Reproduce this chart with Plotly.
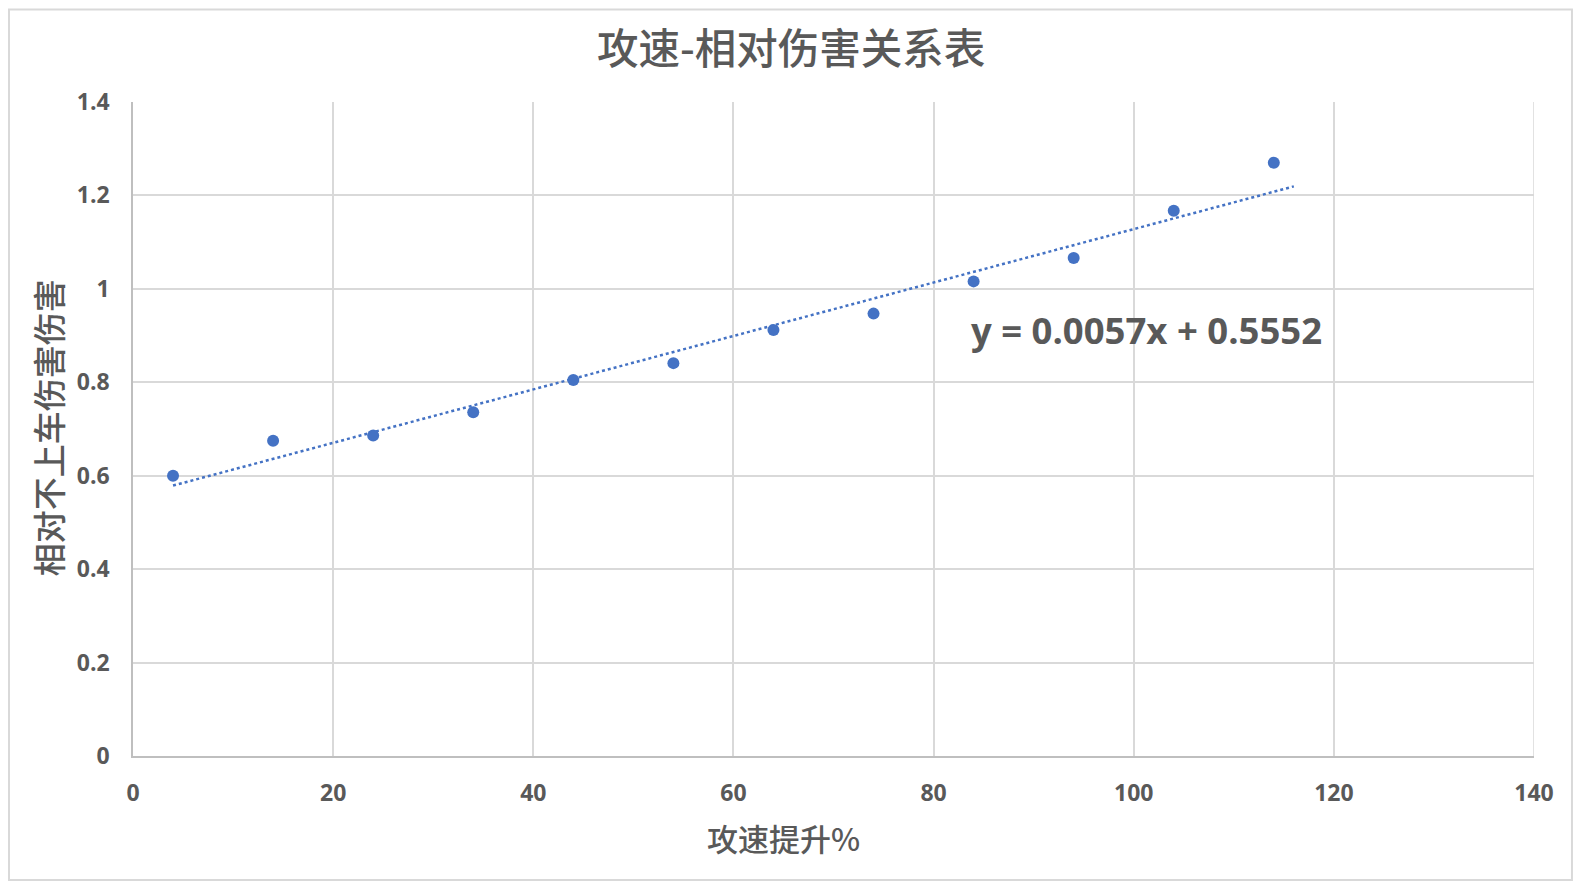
import numpy as np
import plotly.graph_objects as go

# 攻速提升 (%) and 相对伤害
speed_up = [4, 14, 24, 34, 44, 54, 64, 74, 84, 94, 104, 114]
rel_damage = [0.600, 0.675, 0.686, 0.736, 0.805, 0.841, 0.912, 0.947, 1.016, 1.066, 1.167, 1.270]

x_ticks = [0, 20, 40, 60, 80, 100, 120, 140]
y_ticks = [0, 0.2, 0.4, 0.6, 0.8, 1, 1.2, 1.4]
y_tick_text = ["0", "0.2", "0.4", "0.6", "0.8", "1", "1.2", "1.4"]

# linear trendline, forecast forward 2 units like the Excel chart
slope, intercept = np.polyfit(speed_up, rel_damage, 1)
trend_x = np.array([speed_up[0], speed_up[-1] + 2])
trend_y = slope * trend_x + intercept

cjk = "Noto Sans CJK SC"
num = "Open Sans"
grey = "#595959"

fig = go.Figure()
fig.add_trace(go.Scatter(x=trend_x, y=trend_y, mode="lines",
                         line=dict(color="#4472C4", width=2.5, dash="dot"),
                         showlegend=False, hoverinfo="skip"))
fig.add_trace(go.Scatter(x=speed_up, y=rel_damage, mode="markers",
                         marker=dict(color="#4472C4", size=12),
                         showlegend=False))

fig.add_annotation(x=119.0, y=0.913, xref="x", yref="y",
                   text="y = 0.0057x + 0.5552", showarrow=False,
                   xanchor="right", yanchor="middle",
                   font=dict(size=36.5, color=grey, family=num, weight="bold"))

# chart title and axis titles, centred on the whole chart like Excel does
fig.add_annotation(x=0.4697, y=1.0856, xref="paper", yref="paper",
                   text="攻速-相对伤害关系表", showarrow=False,
                   xanchor="center", yanchor="middle",
                   font=dict(size=41.5, color=grey, family=cjk, weight=500))
fig.add_annotation(x=0.464, y=-0.1253, xref="paper", yref="paper",
                   text="攻速提升%", showarrow=False,
                   xanchor="center", yanchor="middle",
                   font=dict(size=31, color=grey, family=cjk, weight=500))
fig.add_annotation(x=-0.061, y=0.502, xref="paper", yref="paper",
                   text="相对不上车伤害伤害", showarrow=False, textangle=-90,
                   xanchor="center", yanchor="middle",
                   font=dict(size=33, color=grey, family=cjk, weight=500))

# thin outer frame round the whole chart
fig.add_shape(type="rect", xref="paper", yref="paper",
              x0=-0.0885, x1=1.0271, y0=-0.1895, y1=1.1413,
              line=dict(color="#d9d9d9", width=2), layer="below")
fig.add_shape(type="line", xref="x", yref="paper", x0=140, x1=140, y0=0, y1=1,
              line=dict(color="#d9d9d9", width=1.5), layer="below")

# page body has an 8px margin, so the figure is a little smaller than the window
fig.update_layout(
    width=1565, height=873,
    margin=dict(l=125, r=39, t=93.5, b=125),
    paper_bgcolor="white", plot_bgcolor="white",
    font=dict(family=num, color=grey),
)
fig.update_xaxes(range=[0, 140], tickvals=x_ticks, showgrid=True,
                 gridcolor="#d9d9d9", gridwidth=1.5, zeroline=False,
                 showline=True, linecolor="#bfbfbf", linewidth=1.5,
                 ticklen=0, ticklabelstandoff=16,
                 tickfont=dict(size=23, color=grey, family=num, weight="bold"))
fig.update_yaxes(range=[0, 1.4], tickvals=y_ticks, ticktext=y_tick_text,
                 showgrid=True, gridcolor="#d9d9d9", gridwidth=1.5,
                 zeroline=False, showline=True, linecolor="#bfbfbf",
                 linewidth=1.5, ticklen=0, ticklabelstandoff=17,
                 tickfont=dict(size=23, color=grey, family=num, weight="bold"))

fig.write_html("out.html")
